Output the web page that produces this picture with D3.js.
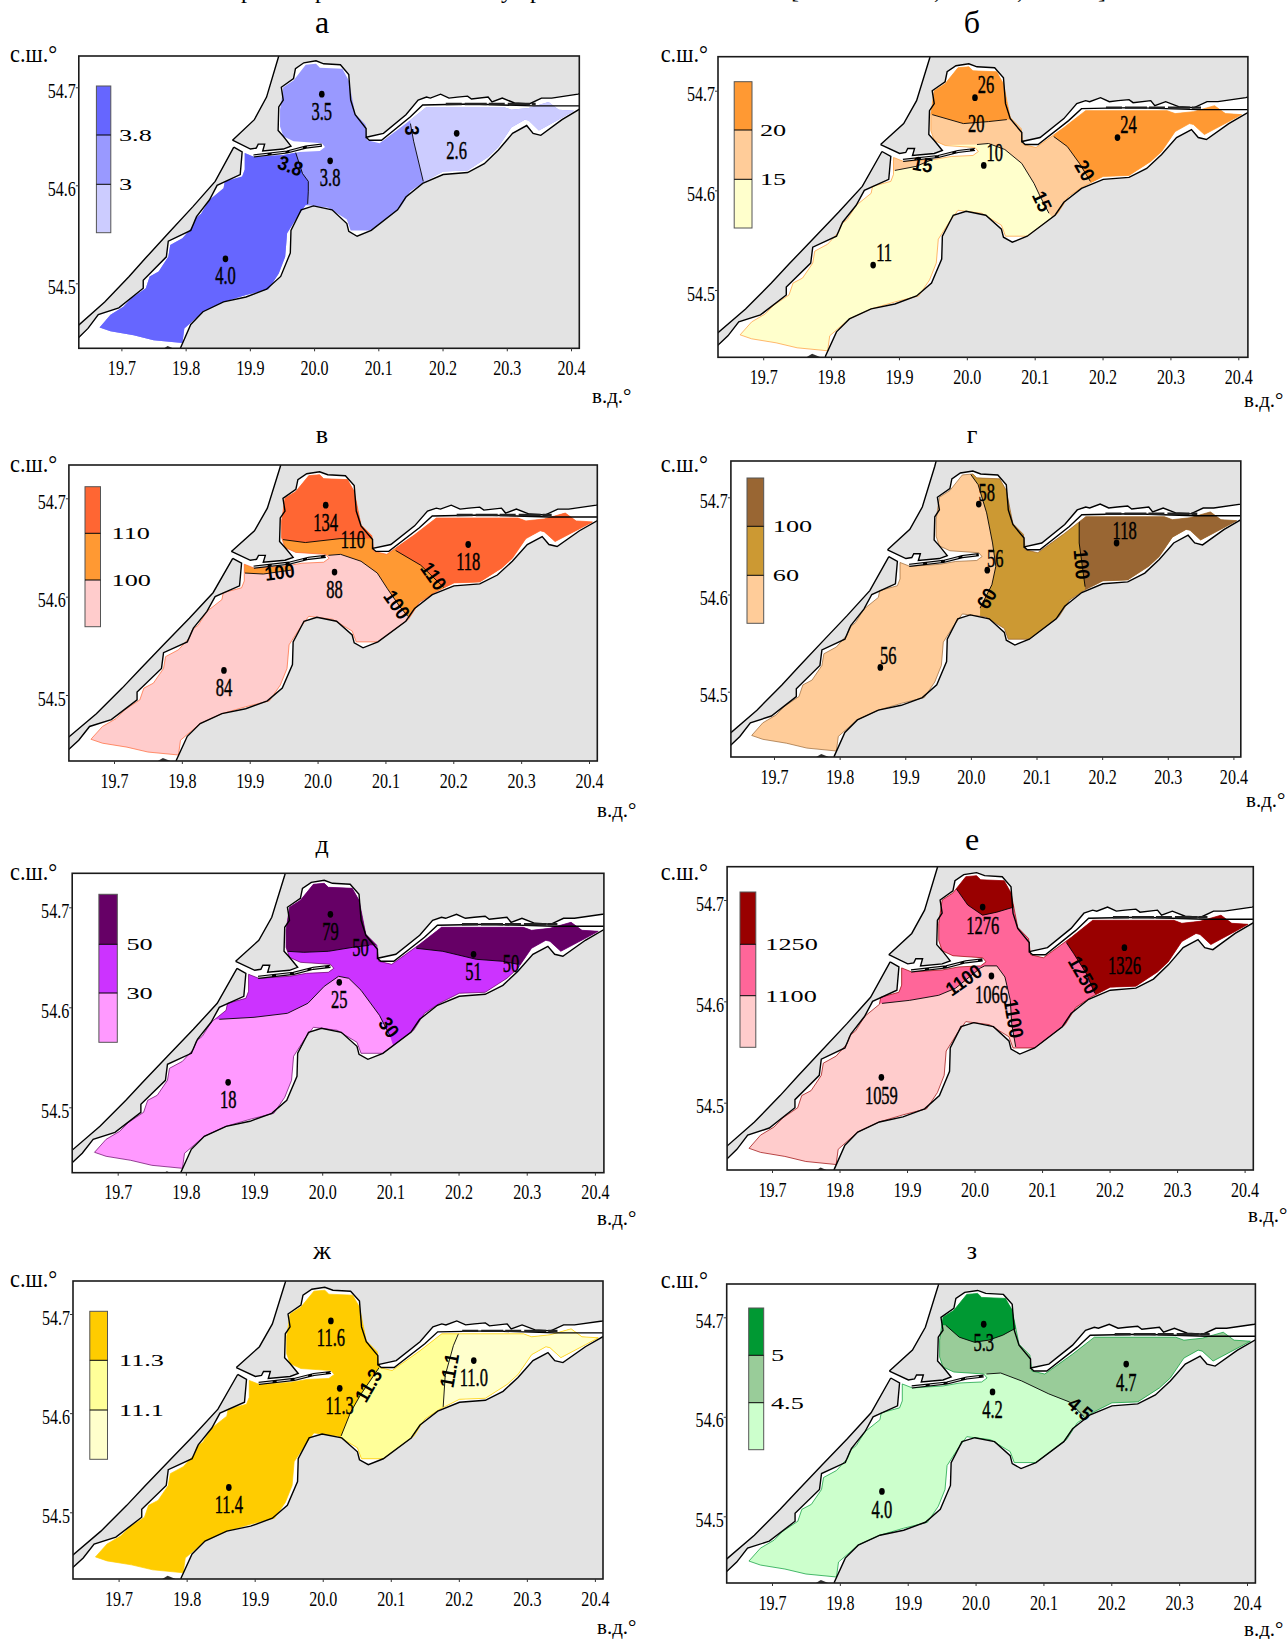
<!DOCTYPE html>
<html><head><meta charset="utf-8">
<script src="https://cdn.jsdelivr.net/npm/d3@7/dist/d3.min.js"></script>
<style>html,body{margin:0;padding:0;background:#fff}svg{display:block}</style>
</head><body><div id="c"></div>
<script>
// ---------- geography (lon, lat) ----------
const waterOutline=[[19.666,54.455],[19.683,54.468],[19.703,54.476],[19.716,54.485],[19.738,54.495],[19.744,54.507],[19.758,54.512],[19.773,54.527],[19.776,54.539],[19.795,54.546],[19.811,54.558],[19.815,54.566],[19.824,54.571],[19.837,54.585],[19.859,54.597],[19.861,54.604],[19.888,54.609],[19.892,54.616],[19.892,54.633],[19.907,54.629],[19.952,54.631],[19.977,54.634],[20.009,54.635],[20.017,54.639],[20.012,54.643],[19.968,54.645],[19.952,54.650],[19.947,54.660],[19.947,54.677],[19.952,54.700],[19.968,54.707],[19.987,54.723],[20.003,54.724],[20.009,54.720],[20.044,54.719],[20.054,54.707],[20.059,54.690],[20.064,54.673],[20.080,54.662],[20.083,54.646],[20.102,54.643],[20.143,54.663],[20.175,54.680],[20.295,54.680],[20.307,54.677],[20.334,54.679],[20.365,54.685],[20.381,54.677],[20.405,54.676],[20.386,54.669],[20.350,54.656],[20.334,54.666],[20.328,54.667],[20.307,54.659],[20.287,54.639],[20.271,54.629],[20.239,54.615],[20.201,54.614],[20.172,54.604],[20.150,54.594],[20.134,54.577],[20.089,54.554],[20.057,54.554],[20.051,54.565],[20.022,54.577],[19.987,54.580],[19.974,54.568],[19.958,54.551],[19.955,54.527],[19.945,54.510],[19.929,54.494],[19.894,54.488],[19.859,54.481],[19.827,54.471],[19.798,54.454],[19.795,54.439],[19.750,54.442],[19.719,54.447],[19.683,54.451]];
const seaCoastNorth=[[19.952,54.75],[19.945,54.732],[19.926,54.690],[19.907,54.667],[19.873,54.646]];
const seaCoastSouth=[[19.875,54.639],[19.846,54.604],[19.811,54.578],[19.773,54.551],[19.738,54.526],[19.712,54.507],[19.674,54.481],[19.633,54.457],[19.61,54.445]];
const spitInner=[[19.61,54.432],[19.634,54.445],[19.648,54.454],[19.664,54.468],[19.696,54.475],[19.734,54.495],[19.734,54.503],[19.770,54.527],[19.773,54.543],[19.808,54.554],[19.817,54.568],[19.837,54.585],[19.849,54.600],[19.885,54.611],[19.888,54.634],[19.875,54.639]];
const northCoast=[[19.873,54.646],[19.901,54.637],[19.910,54.638],[19.913,54.642],[19.923,54.642],[19.920,54.635],[19.952,54.637],[19.964,54.640],[19.952,54.650],[19.944,54.656],[19.945,54.680],[19.952,54.687],[19.949,54.700],[19.968,54.709],[19.971,54.719],[19.984,54.725],[20.003,54.727],[20.015,54.724],[20.041,54.723],[20.054,54.713],[20.057,54.687],[20.064,54.672],[20.081,54.658],[20.081,54.649],[20.108,54.653],[20.143,54.672],[20.162,54.687],[20.175,54.690],[20.181,54.689],[20.197,54.693],[20.210,54.689],[20.223,54.690],[20.239,54.691],[20.245,54.688],[20.271,54.690],[20.277,54.685],[20.293,54.689],[20.312,54.684],[20.335,54.683],[20.354,54.689],[20.370,54.689],[20.411,54.693],[20.43,54.697]];
const southCoast=[[20.43,54.672],[20.414,54.678],[20.386,54.667],[20.353,54.651],[20.341,54.653],[20.331,54.661],[20.309,54.653],[20.287,54.636],[20.265,54.622],[20.239,54.613],[20.201,54.611],[20.169,54.602],[20.143,54.588],[20.130,54.575],[20.089,54.554],[20.067,54.548],[20.054,54.553],[20.051,54.561],[20.028,54.575],[19.999,54.579],[19.980,54.575],[19.964,54.554],[19.963,54.531],[19.948,54.507],[19.926,54.494],[19.894,54.486],[19.859,54.481],[19.827,54.471],[19.808,54.458],[19.792,54.434],[19.785,54.415]];
const shoreStrip=[[20.081,54.649],[20.086,54.646],[20.105,54.646],[20.150,54.670],[20.169,54.682],[20.245,54.683],[20.341,54.681],[20.43,54.681]];
const shoreDashes=[[20.205,54.683],[20.345,54.683]];
const canal=[[19.906,54.630],[19.958,54.634],[19.987,54.639],[20.012,54.641]];
const southShoal=[[19.76,54.431],[19.772,54.436],[19.79,54.431]];

// ---------- stations ----------
const stationLon=[20.012,20.025,20.222,19.862];
const stationLat=[54.693,54.625,54.653,54.525];

// ---------- text and values ----------
const panelTitles=["а","б","в","г","д","е","ж","з"];
const lonTicks=[19.7,19.8,19.9,20.0,20.1,20.2,20.3,20.4];
const latTicks=[54.5,54.6,54.7];
const headerGlyphs=[["р",247],["р",321],["у",507],["р",536],["[",795],[",",937],[",",1020],["]",1102]];
const stationValues=[
 ["3.5","3.8","2.6","4.0"],["26","10","24","11"],["134","88","118","84"],["58","56","118","56"],
 ["79","25","51","18"],["1276","1066","1326","1059"],["11.6","11.3","11.0","11.4"],["5.3","4.2","4.7","4.0"]];
const legendLevels=[["3.8","3"],["20","15"],["110","100"],["100","60"],["50","30"],["1250","1100"],["11.3","11.1"],["5","4.5"]];
const palettes=[
 ["#6666ff","#9999ff","#ccccff"],["#ff9933","#ffcc99","#ffffcc"],["#ff6633","#ff9933","#ffcccc"],["#996633","#cc9933","#ffcc99"],
 ["#660066","#cc33ff","#ff99ff"],["#990000","#ff6699","#ffcccc"],["#ffcc00","#ffff99","#ffffcc"],["#009933","#99cc99","#ccffcc"]];
const borderColors=[null,"#ff9933","#ff6633","#996633","#660066","#990000","#ffcc00","#009933"];
const baseZone=[1,2,2,2,2,2,0,2];

// ---------- isolines: [palette index filled beyond line, line, closing points] ----------
const isolines=[
 [[0,[[19.970,54.636],[19.982,54.612],[19.991,54.604],[19.991,54.594],[19.990,54.581]],[[19.990,54.42],[19.6,54.42],[19.6,54.64],[19.97,54.64]]],
  [2,[[20.150,54.663],[20.155,54.645],[20.170,54.604]],[[20.175,54.58],[20.45,54.58],[20.45,54.70],[20.145,54.70]]]],
 [[1,[[19.894,54.620],[19.925,54.624],[19.946,54.630]],[[19.955,54.645],[19.88,54.645],[19.88,54.62]]],
  [1,[[20.015,54.646],[20.032,54.647],[20.056,54.641],[20.081,54.627],[20.099,54.607],[20.108,54.594],[20.121,54.577]],[[20.14,54.56],[20.45,54.56],[20.45,54.74],[19.93,54.74],[19.93,54.645]]],
  [0,[[19.949,54.676],[19.995,54.667],[20.032,54.669],[20.059,54.671]],[[20.08,54.671],[20.08,54.74],[19.93,54.74],[19.93,54.676]]],
  [0,[[20.128,54.654],[20.148,54.644],[20.166,54.627],[20.182,54.609]],[[20.19,54.59],[20.45,54.59],[20.45,54.70],[20.13,54.70]]]],
 [[1,[[19.893,54.624],[19.920,54.623],[19.961,54.627]],[[19.965,54.645],[19.88,54.645],[19.88,54.624]]],
  [1,[[20.016,54.642],[20.034,54.643],[20.064,54.636],[20.088,54.624],[20.103,54.608],[20.121,54.590],[20.133,54.580]],[[20.15,54.56],[20.45,54.56],[20.45,54.74],[19.93,54.74],[19.93,54.645]]],
  [0,[[19.949,54.658],[19.982,54.655],[20.033,54.659],[20.07,54.659]],[[20.09,54.659],[20.09,54.74],[19.93,54.74],[19.93,54.658]]],
  [0,[[20.115,54.647],[20.152,54.632],[20.188,54.608]],[[20.2,54.59],[20.45,54.59],[20.45,54.70],[20.115,54.70]]]],
 [[1,[[19.995,54.728],[20.011,54.713],[20.024,54.684],[20.033,54.653],[20.038,54.629],[20.032,54.610],[20.014,54.586]],[[20.014,54.54],[20.45,54.54],[20.45,54.74],[19.995,54.74]]],
  [0,[[20.165,54.678],[20.165,54.653],[20.174,54.608]],[[20.174,54.58],[20.45,54.58],[20.45,54.70],[20.165,54.70]]]],
 [[1,[[19.849,54.588],[19.900,54.590],[19.949,54.594],[19.979,54.604],[20.003,54.621],[20.024,54.631],[20.039,54.629],[20.057,54.617],[20.084,54.592],[20.099,54.572]],[[20.11,54.55],[20.45,54.55],[20.45,54.74],[19.80,54.74],[19.80,54.588]]],
  [0,[[19.949,54.656],[19.973,54.655],[20.009,54.656],[20.045,54.660],[20.069,54.662]],[[20.09,54.662],[20.09,54.74],[19.93,54.74],[19.93,54.656]]],
  [0,[[20.138,54.659],[20.177,54.656],[20.226,54.648],[20.265,54.646],[20.287,54.643]],[[20.30,54.64],[20.45,54.64],[20.45,54.70],[20.13,54.70]]]],
 [[1,[[19.863,54.598],[19.904,54.601],[19.947,54.606],[19.972,54.613],[20.009,54.633],[20.015,54.635],[20.033,54.635],[20.045,54.624],[20.053,54.601],[20.055,54.578],[20.061,54.555]],[[20.061,54.54],[20.45,54.54],[20.45,54.74],[19.82,54.74],[19.82,54.598]]],
  [0,[[19.972,54.712],[19.990,54.695],[20.012,54.685],[20.033,54.688],[20.058,54.693]],[[20.08,54.693],[20.08,54.74],[19.96,54.74],[19.96,54.715]]],
  [0,[[20.136,54.658],[20.147,54.647],[20.165,54.628],[20.178,54.608]],[[20.19,54.59],[20.45,54.59],[20.45,54.70],[20.136,54.70]]]],
 [[1,[[20.027,54.577],[20.041,54.601],[20.056,54.619],[20.083,54.646]],[[20.09,54.66],[20.09,54.70],[20.45,54.70],[20.45,54.54],[20.02,54.54]]],
  [2,[[20.200,54.681],[20.192,54.668],[20.180,54.638],[20.177,54.606]],[[20.177,54.58],[20.45,54.58],[20.45,54.70],[20.205,54.70]]]],
 [[1,[[20.016,54.643],[20.037,54.644],[20.068,54.636],[20.108,54.623],[20.138,54.615],[20.160,54.600]],[[20.17,54.58],[20.45,54.58],[20.45,54.74],[19.93,54.74],[19.93,54.645]]],
  [0,[[19.956,54.692],[19.976,54.680],[19.998,54.675],[20.019,54.677],[20.040,54.682],[20.059,54.689]],[[20.08,54.689],[20.08,54.74],[19.93,54.74],[19.93,54.692]]]]
];
// isoline labels: text, lon, lat, rotation
const isoLabels=[
 [["3.8",19.963,54.620,20],["3",20.153,54.656,90]],
 [["15",19.935,54.626,10],["20",20.014,54.667,0],["20",20.174,54.620,60],["15",20.111,54.589,65]],
 [["100",19.944,54.625,-8],["110",20.052,54.658,0],["110",20.171,54.621,55],["100",20.117,54.592,55]],
 [["60",20.024,54.596,-60],["100",20.169,54.631,85]],
 [["50",20.056,54.660,0],["50",20.277,54.644,0],["30",20.098,54.580,55]],
 [["1100",19.984,54.621,-35],["1100",20.058,54.583,80],["1250",20.161,54.626,60]],
 [["11.3",20.067,54.628,-60],["11.1",20.186,54.643,-80]],
 [["4.5",20.154,54.608,40]]
];

// ---------- layout of each panel in the page ----------
const layout=[
 {f:[78.8,579.3,56,348.3],lon:[121.4,571],lat:[87.3,283.3],leg:[96.4,110.8,86,135,184.3,232.7,119],t:[322,33,32],n:[10,62],e:[592,403],off:[0,17]},
 {f:[718,1247.9,56.7,357.3],lon:[763.2,1238.3],lat:[90.7,290],leg:[734.2,752,81.7,130,179.3,228,760],t:[972,33,32],n:[660.7,62],e:[1244,407],off:[11,-13]},
 {f:[68.9,597.3,465,761],lon:[114,589],lat:[498.3,695],leg:[85,100.5,486.7,533.3,580,626.7,111.6],t:[322,443,26],n:[10,472],e:[597,816.7],off:[0,17]},
 {f:[730.9,1240.8,461,757],lon:[774,1233.4],lat:[497.3,691.7],leg:[747,763.7,478,526.3,575.3,623.3,772.8],t:[972,443,26],n:[660.7,472],e:[1246,806.7],off:[8,-12]},
 {f:[72.2,603.9,873.3,1172.7],lon:[117.7,594.9],lat:[907.3,1107.3],leg:[98.9,117.3,894.3,944.3,993,1042.3,126.4],t:[322,853,26],n:[10,880],e:[597,1225],off:[0,17]},
 {f:[727.1,1253.3,866.7,1170],lon:[772,1244.6],lat:[900,1102.7],leg:[740,755.8,892,944.3,995.7,1047.3,765.3],t:[972,850,32],n:[660.7,880],e:[1248,1221.7],off:[0,18]},
 {f:[73,603,1281,1579],lon:[118.6,594.9],lat:[1314,1512.3],leg:[89.8,107.5,1311.3,1360.3,1410,1459.3,119],t:[322,1259,26],n:[10,1287],e:[597,1634],off:[0,17]},
 {f:[726.7,1255.4,1284,1583],lon:[772,1247],lat:[1317.3,1516.3],leg:[748.7,763.7,1308,1355.3,1402.7,1449.7,771],t:[972,1259,26],n:[660.7,1288],e:[1244,1635.7],off:[0,18]}
];

const SERIF='"Liberation Serif","Times New Roman",serif', SANS='"Liberation Sans",Arial,sans-serif';
const svg=d3.select("#c").append("svg").attr("width",1288).attr("height",1639);

svg.selectAll("text.hdr").data(headerGlyphs).join("text").attr("class","hdr")
  .attr("x",d=>d[1]).attr("y",-2).attr("font-family",SERIF).attr("font-size",24).attr("text-anchor","middle").text(d=>d[0]);

function txt(g,x,y,s,size,sx,o={}){
  return g.append("text").attr("transform",`translate(${x},${y})`+(o.rot?` rotate(${o.rot})`:"")+` scale(${sx},1)`)
    .attr("font-family",o.fam||SERIF).attr("font-size",size).attr("font-weight",o.w||"normal")
    .attr("text-anchor",o.a||"start").attr("dy",o.dy||0).attr("fill","#000").attr("stroke",o.st?"#000":"none").attr("stroke-width",o.st||0).text(s);
}

layout.forEach((L,i)=>{
  const g=svg.append("g"), [x0,x1,y0,y1]=L.f;
  const x=d3.scaleLinear().domain([19.7,20.4]).range(L.lon);
  const y=d3.scaleLinear().domain([54.7,54.5]).range(L.lat);
  const line=d3.line().x(d=>x(d[0])).y(d=>y(d[1]));
  const poly=a=>line(a)+"Z";
  const defs=g.append("defs");
  defs.append("clipPath").attr("id","fr"+i).append("rect").attr("x",x0).attr("y",y0).attr("width",x1-x0).attr("height",y1-y0);
  defs.append("clipPath").attr("id","wa"+i).append("path").attr("d",poly(waterOutline));

  const m=g.append("g").attr("clip-path",`url(#fr${i})`);
  m.append("rect").attr("x",x0).attr("y",y0).attr("width",x1-x0).attr("height",y1-y0).attr("fill","#e3e3e3");
  // sea and lagoon are white
  m.append("path").attr("d",poly([[19.5,54.8],[19.96,54.8],...seaCoastNorth,...seaCoastSouth,[19.5,54.43]])).attr("fill","#fff");
  m.append("path").attr("d",poly([...spitInner,...northCoast,...southCoast,[19.5,54.40],[19.5,54.42]])).attr("fill","#fff");
  // zones
  m.append("path").attr("d",poly(waterOutline)).attr("fill",palettes[i][baseZone[i]]);
  const w=m.append("g").attr("clip-path",`url(#wa${i})`);
  isolines[i].forEach(z=>w.append("path").attr("d",poly([...z[1],...z[2]])).attr("fill",palettes[i][z[0]]));
  if(borderColors[i]) m.append("path").attr("d",poly(waterOutline)).attr("fill","none").attr("stroke",borderColors[i]).attr("stroke-width",.7);
  isolines[i].forEach(z=>w.append("path").attr("d",line(z[1])).attr("fill","none").attr("stroke","#000").attr("stroke-width",.9));
  // coast lines
  [seaCoastNorth,seaCoastSouth,spitInner,northCoast,southCoast,shoreStrip].forEach(a=>
    m.append("path").attr("d",line(a)).attr("fill","none").attr("stroke","#000").attr("stroke-width",1.4));
  m.append("path").attr("d",line(shoreDashes)).attr("fill","none").attr("stroke","#222").attr("stroke-width",2.4).attr("stroke-dasharray","16 3 22 2");
  m.append("path").attr("d",line(canal)).attr("fill","none").attr("stroke","#000").attr("stroke-width",3.2);
  m.append("path").attr("d",line(canal)).attr("fill","none").attr("stroke","#ddd").attr("stroke-width",1).attr("stroke-dasharray","14 4");
  m.append("path").attr("d",poly(southShoal)).attr("fill","#333");
  g.append("rect").attr("x",x0).attr("y",y0).attr("width",x1-x0).attr("height",y1-y0).attr("fill","none").attr("stroke","#1a1a1a").attr("stroke-width",1.6);

  // axes
  const ax=g.append("g").attr("transform",`translate(0,${y1})`)
    .call(d3.axisBottom(x).tickValues(lonTicks).tickFormat(d3.format(".1f")).tickSize(3).tickPadding(6));
  const ay=g.append("g").attr("transform",`translate(${x0},0)`)
    .call(d3.axisLeft(y).tickValues(latTicks).tickFormat(d3.format(".1f")).tickSize(3).tickPadding(1));
  ax.select(".domain").remove(); ay.select(".domain").remove();
  ax.selectAll("text").attr("font-family",SERIF).attr("font-size",22).attr("fill","#000").attr("y",11).attr("dy",".71em")
    .attr("transform","scale(.73,1)");
  ay.selectAll("text").attr("font-family",SERIF).attr("font-size",22).attr("fill","#000").attr("x",0)
    .attr("transform","translate(-3,3) scale(.73,1)");
  ax.selectAll("line").attr("stroke","#333"); ay.selectAll("line").attr("stroke","#333");

  // stations
  const st=g.append("g");
  stationLon.forEach((lon,k)=>{
    st.append("ellipse").attr("cx",x(lon)).attr("cy",y(stationLat[k])).attr("rx",2.8).attr("ry",3.4).attr("fill","#000");
    txt(st,x(lon)+L.off[0],y(stationLat[k])+L.off[1],stationValues[i][k],25,.66,{a:"middle",dy:".34em",st:.45});
  });
  // isoline labels
  isoLabels[i].forEach(d=>{
    if(d[3]===0) txt(g,x(d[1]),y(d[2]),d[0],25,.66,{a:"middle",dy:".34em",st:.45});
    else txt(g,x(d[1]),y(d[2]),d[0],20,.9,{a:"middle",dy:".35em",w:"bold",fam:SANS,rot:d[3]});
  });

  // legend
  const [lx0,lx1,t,a,b,e,lt]=L.leg, rows=[[t,a],[a,b],[b,e]];
  rows.forEach((r,k)=>g.append("rect").attr("x",lx0).attr("y",r[0]).attr("width",lx1-lx0).attr("height",r[1]-r[0]).attr("fill",palettes[i][k]));
  g.append("rect").attr("x",lx0).attr("y",t).attr("width",lx1-lx0).attr("height",e-t).attr("fill","none").attr("stroke","#555").attr("stroke-width",1);
  [a,b].forEach((v,k)=>{
    g.append("line").attr("x1",lx0).attr("x2",lx1).attr("y1",v).attr("y2",v).attr("stroke","#000").attr("stroke-width",1);
    txt(g,lt,v,legendLevels[i][k],17.5,1.5,{dy:".34em"});
  });

  // titles
  txt(g,L.t[0],L.t[1],panelTitles[i],L.t[2],1,{a:"middle"});
  txt(g,L.n[0],L.n[1],"с.ш.°",26,.86);
  txt(g,L.e[0],L.e[1],"в.д.°",20,1.05);
});
</script></body></html>
